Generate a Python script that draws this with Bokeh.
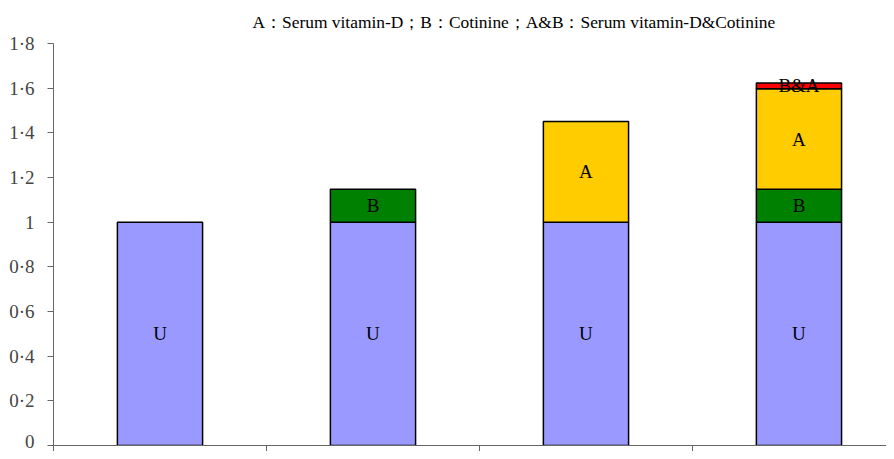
import numpy as np
from bokeh.plotting import figure
from bokeh.models import ColumnDataSource, FixedTicker, Range1d, Title
from bokeh.core.properties import value
from bokeh.embed import file_html
from bokeh.resources import INLINE

# ---- data ----
groups = ["U", "U+B", "U+A", "U+B+A"]
u_vals = [1.0, 1.0, 1.0, 1.0]
b_vals = [0.0, 0.147, 0.0, 0.147]
a_vals = [0.0, 0.0, 0.451, 0.45]
ab_vals = [0.0, 0.0, 0.0, 0.026]
seg_names = ["U", "B", "A", "B&A"]
seg_colors = ["#9999FF", "#008000", "#FFCC00", "#FF0000"]
y_ticks = [0, 0.2, 0.4, 0.6, 0.8, 1.0, 1.2, 1.4, 1.6, 1.8]
y_tick_labels = ["0", "0·2", "0·4", "0·6", "0·8", "1", "1·2", "1·4", "1·6", "1·8"]
x_ticks = [0, 1, 2, 3, 4]
title_text = "A：Serum vitamin-D；B：Cotinine；A&B：Serum vitamin-D&Cotinine"

FONT = "Liberation Serif"

p = figure(width=886, height=451, output_backend="svg", toolbar_location=None,
           x_range=Range1d(0, 3.911), y_range=Range1d(0, 1.8),
           min_border_left=53, min_border_right=0, min_border_top=43, min_border_bottom=6)

t = Title(text=title_text, align="left", offset=199, text_font=FONT,
          text_font_size="17.4px", text_font_style="normal", text_color="black",
          standoff=20, vertical_align="top")
p.add_layout(t, "above")

series = [u_vals, b_vals, a_vals, ab_vals]
xs, bottoms, tops, colors, labels, mids = [], [], [], [], [], []
cum = np.zeros(len(groups))
for name, col, vals in zip(seg_names, seg_colors, series):
    vals = np.array(vals)
    for i, v in enumerate(vals):
        if v > 0:
            xs.append(i + 0.5)
            bottoms.append(cum[i])
            tops.append(cum[i] + v)
            colors.append(col)
            labels.append(name)
            mids.append(cum[i] + v / 2)
    cum = cum + vals

src = ColumnDataSource(dict(x=xs, bottom=bottoms, top=tops, color=colors,
                            label=labels, mid=mids))
p.vbar(x="x", bottom="bottom", top="top", width=0.4, fill_color="color",
       line_color="black", line_width=1.5, source=src)
p.text(x="x", y="mid", text="label", source=src, text_align="center",
       text_baseline="middle", text_font=value(FONT), text_font_size="19px",
       text_color="black")

p.grid.visible = False
p.outline_line_color = None
p.background_fill_color = "white"
p.border_fill_color = "white"

p.yaxis.ticker = FixedTicker(ticks=y_ticks)
p.yaxis.major_label_overrides = {t_: l for t_, l in zip(y_ticks, y_tick_labels)}
p.yaxis.major_label_text_font = FONT
p.yaxis.major_label_text_font_size = "19px"
p.yaxis.major_label_standoff = 13
p.yaxis.major_tick_in = 0
p.yaxis.major_tick_out = 6
p.yaxis.minor_tick_line_color = None
p.yaxis.axis_line_color = "#666666"
p.yaxis.major_tick_line_color = "#666666"

p.xaxis.ticker = FixedTicker(ticks=x_ticks)
p.xaxis.major_label_overrides = {t_: "" for t_ in x_ticks}
p.xaxis.major_label_text_font_size = "1px"
p.xaxis.major_label_standoff = 0
p.xaxis.major_tick_in = 0
p.xaxis.major_tick_out = 6
p.xaxis.minor_tick_line_color = None
p.xaxis.axis_line_color = "#666666"
p.xaxis.major_tick_line_color = "#666666"

open("out.html", "w").write(file_html(p, INLINE))
